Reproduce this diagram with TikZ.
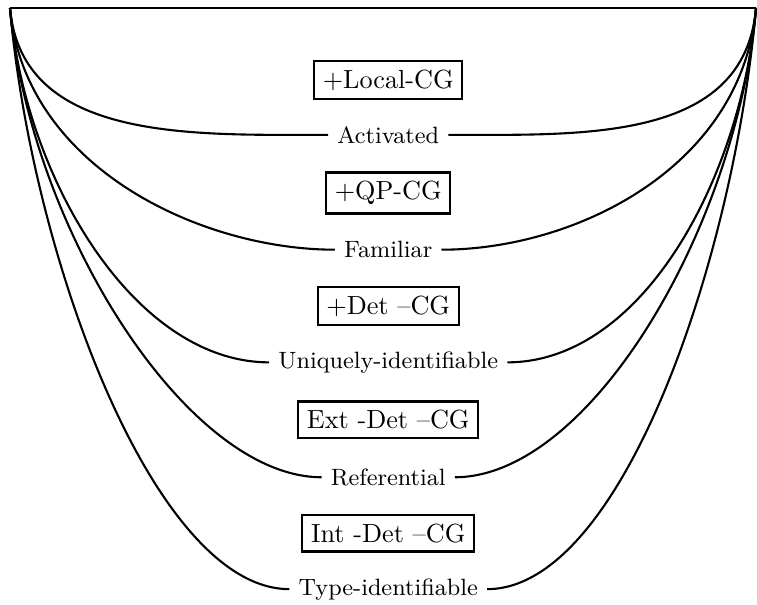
\documentclass[tikz,border=0pt]{standalone}
\begin{document}
\begin{tikzpicture}[
  lbl/.style={font=\small, inner sep=3.33pt},
  featbox/.style={draw, thick, inner sep=3.33pt},
  arc/.style={thick}
]
\useasboundingbox (-0.134,0.107) rectangle (10.013,-7.99);
\coordinate (L) at (0,0);
\coordinate (R) at (10,0);
\draw[line width=1pt] (L) -- (R);

\node[featbox] (b1) at (5.07,-0.965) {+Local-CG};
\node[lbl] (a1) at (5.07,-1.70) {Activated};
\node[featbox] (b2) at (5.07,-2.48) {+QP-CG};
\node[lbl] (a2) at (5.07,-3.24) {Familiar};
\node[featbox] (b3) at (5.07,-3.995) {+Det --CG};
\node[lbl] (a3) at (5.07,-4.75) {Uniquely-identifiable};
\node[featbox] (b4) at (5.07,-5.52) {Ext -Det --CG};
\node[lbl] (a4) at (5.07,-6.29) {Referential};
\node[featbox] (b5) at (5.07,-7.04) {Int -Det --CG};
\node[lbl] (a5) at (5.07,-7.79) {Type-identifiable};

\foreach \n/\s in {a1/1.81,a2/2.14,a3/2.31,a4/2.97,a5/3.39}{
  \draw[arc] (L) .. controls +(-85:\s) and +(-1.8,0) .. (\n.west);
  \draw[arc] (\n.east) .. controls +(1.8,0) and +(-95:\s) .. (R);
}
\end{tikzpicture}
\end{document}
